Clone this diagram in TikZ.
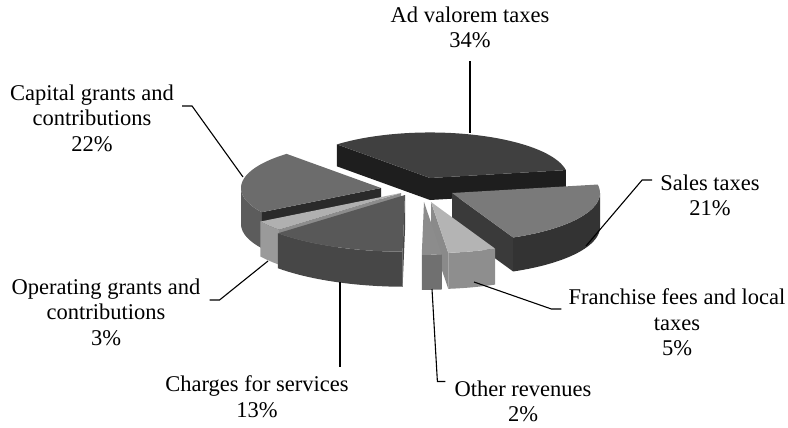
\documentclass[tikz,border=0pt]{standalone}
\usepackage{fontspec}
\setmainfont{Liberation Serif}

\definecolor{advtop}{HTML}{404040}
\definecolor{advside}{HTML}{1E1E1E}
\definecolor{captop}{HTML}{6C6C6C}
\definecolor{capwall}{HTML}{5C5C5C}
\definecolor{capside}{HTML}{2A2A2A}
\definecolor{saltop}{HTML}{7A7A7A}
\definecolor{salwall}{HTML}{333333}
\definecolor{salside}{HTML}{3A3A3A}
\definecolor{optop}{HTML}{B0B0B0}
\definecolor{opwall}{HTML}{9A9A9A}
\definecolor{opside}{HTML}{8C8C8C}
\definecolor{chtop}{HTML}{585858}
\definecolor{chwall}{HTML}{474747}
\definecolor{frtop}{HTML}{B4B4B4}
\definecolor{frwall}{HTML}{8E8E8E}
\definecolor{frside}{HTML}{8A8A8A}
\definecolor{ottop}{HTML}{8C8C8C}
\definecolor{otwall}{HTML}{707070}

\tikzset{
  lab/.style={align=center, inner sep=0pt, anchor=north, font=\fontsize{22.5}{25.5}\selectfont},
  leader/.style={draw=black, line width=1.1pt},
}

\begin{document}
\begin{tikzpicture}[x=1pt,y=-1pt]
    \useasboundingbox (0,0) rectangle (788,428);

    % exploded 3d pie, drawn back to front
    % apex x/y, radius, height, start/end angle, colours
    \foreach \px/\py/\rad/\hh/\angA/\angB/\ctop/\cwall/\cside in {
        430/178/138/22/10/132.4/advtop/advside/advside,
        381/188/140/36/-227.6/-148.4/captop/capwall/capside,
        452/193/148/34/-65.6/10/saltop/salwall/salside,
        401/193/165/35/-148.4/-137.6/optop/opwall/opside,
        405/195/172/35/-137.6/-90.8/chtop/chwall/chwall,
        431/202/155/36/-83.6/-65.6/frtop/frwall/frside,
        424/202/160/35/-90.8/-83.6/ottop/otwall/otwall}
    {
        % outer wall, front half only
        \pgfmathsetmacro\wa{max(\angA,-180)}
        \pgfmathsetmacro\wb{min(\angB,0)}
        \ifdim\wa pt<\wb pt
            \fill[\cwall] plot[domain=\wa:\wb,samples=40] ({\px+\rad*cos(\x)},{\py-0.33*\rad*sin(\x)})
                -- plot[domain=\wb:\wa,samples=40] ({\px+\rad*cos(\x)},{\py-0.33*\rad*sin(\x)+\hh}) -- cycle;
        \fi
        % cut faces
        \pgfmathsetmacro\cosA{cos(\angA)}
        \ifdim\cosA pt>0pt
            \fill[\cside] (\px,\py) -- ({\px+\rad*cos(\angA)},{\py-0.33*\rad*sin(\angA)})
                -- ++(0,\hh) -- (\px,\py+\hh) -- cycle;
        \fi
        \pgfmathsetmacro\cosB{cos(\angB)}
        \ifdim\cosB pt<0pt
            \fill[\cside] (\px,\py) -- ({\px+\rad*cos(\angB)},{\py-0.33*\rad*sin(\angB)})
                -- ++(0,\hh) -- (\px,\py+\hh) -- cycle;
        \fi
        % top face
        \fill[\ctop] (\px,\py) -- plot[domain=\angA:\angB,samples=40] ({\px+\rad*cos(\x)},{\py-0.33*\rad*sin(\x)}) -- cycle;
    }

    % labels
    \node[lab] (adval) at (470,6.5) {Ad valorem taxes\\34\%};
    \node[lab] (sales) at (710,174.5) {Sales taxes\\21\%};
    \node[lab] (fran) at (677,288.5) {Franchise fees and local\\taxes\\5\%};
    \node[lab] (other) at (523,380.5) {Other revenues\\2\%};
    \node[lab] (charges) at (257,375.5) {Charges for services\\13\%};
    \node[lab] (oper) at (106,278.5) {Operating grants and\\contributions\\3\%};
    \node[lab] (capital) at (92,84.5) {Capital grants and\\contributions\\22\%};

    % leader ends on the slices
    \coordinate (advpt) at (470,133);
    \coordinate (salpt) at (586,246);
    \coordinate (frpt) at (474,282);
    \coordinate (otpt) at (432,289);
    \coordinate (chpt) at (340,282);
    \coordinate (oppt) at (268,261);
    \coordinate (cappt) at (243,177);

    % leader ends at the labels
    \coordinate (salend) at ([xshift=-8pt,yshift=-5.5pt]sales.north west);
    \coordinate (frend) at ([xshift=-7pt,yshift=-20.5pt]fran.north west);
    \coordinate (otend) at ([xshift=-9pt,yshift=-1pt]other.north west);
    \coordinate (opend) at ([xshift=9pt,yshift=-21.5pt]oper.north east);
    \coordinate (capend) at ([xshift=8pt,yshift=-21.5pt]capital.north east);

    % leader lines
    \draw[leader] ([yshift=-13pt]adval.south) -- (advpt);
    \draw[leader] (salpt) -- ([xshift=-10pt]salend) -- (salend);
    \draw[leader] (frpt) -- ([xshift=-10pt]frend) -- (frend);
    \draw[leader] (otpt) -- ([xshift=-8pt]otend) -- (otend);
    \draw[leader, shorten >=9pt] (chpt) -- (chpt |- charges.north);
    \draw[leader] (oppt) -- ([xshift=10pt]opend) -- (opend);
    \draw[leader] (cappt) -- ([xshift=10pt]capend) -- (capend);
\end{tikzpicture}
\end{document}
